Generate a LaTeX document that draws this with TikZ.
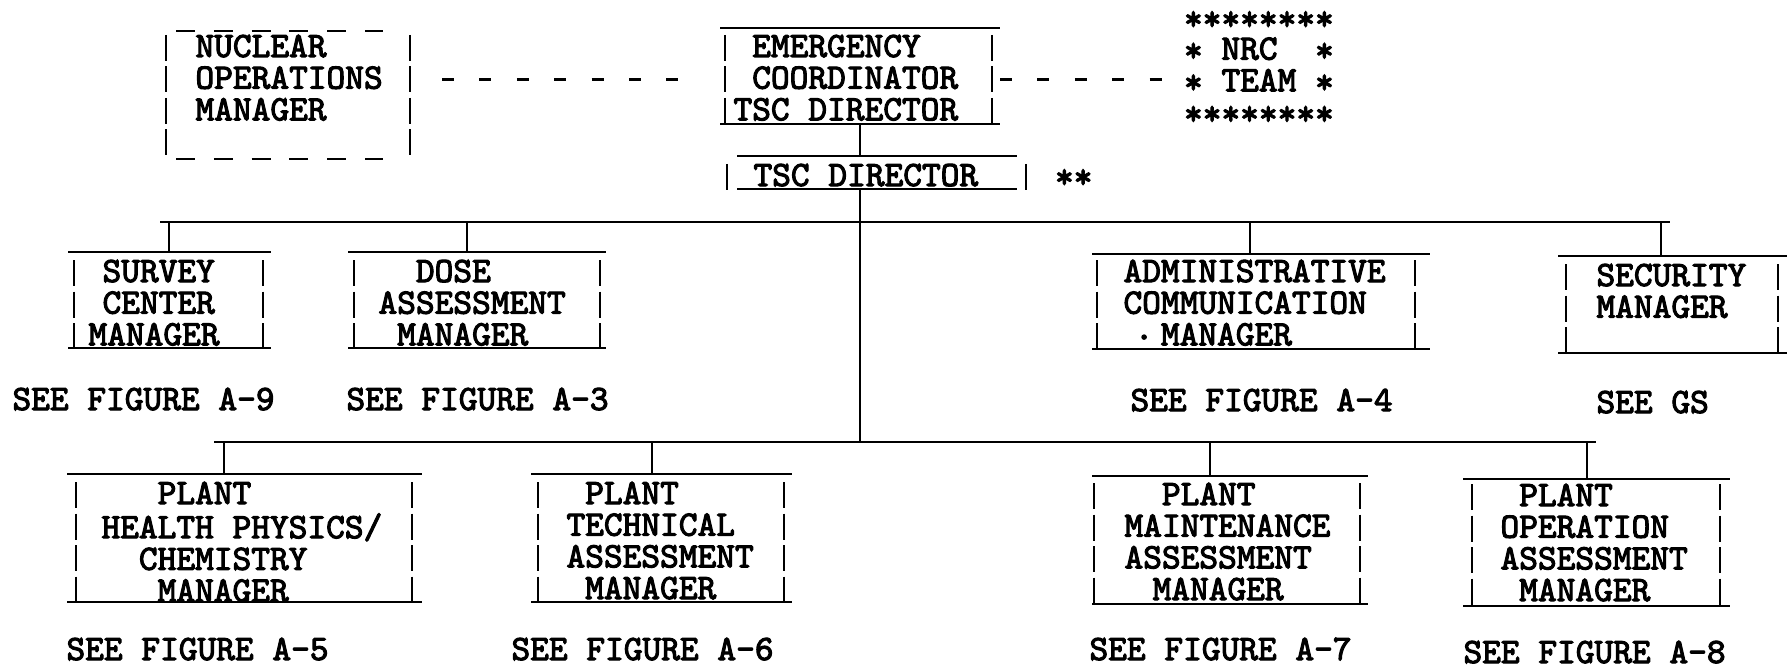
\documentclass[tikz,border=0pt]{standalone}
\usepackage{fontspec}
\newfontfamily\tyf{lmmono10-regular.otf}[FakeBold=3]
\newcommand\tw{\fontsize{35.66}{31.5}\selectfont\tyf}
\newlength\cw
\setlength\cw{18.72pt}
\newcommand\ind[1]{\hspace*{#1\cw}}
\newcommand\tl[1]{\begin{tabular}[t]{@{}l@{}}#1\end{tabular}}
\newcommand\st{\raisebox{-2pt}{*}}
\newcommand\bars[3]{\draw[barline] (#1,{#2-22}) -- (#1,{#2+31.5*(#3-1)+4});}
\newcommand\frm[6][hline]{%
  \node[boxarea, minimum width={#4-#3}, minimum height={#6-#5}] (#2) at ({(#3+#4)/2},{(#5+#6)/2}) {};
  \draw[#1] (#2.north west) -- (#2.north east);
  \draw[#1] (#2.south west) -- (#2.south east);}
\tikzset{
  hline/.style={line width=2.6pt},
  dline/.style={line width=2.6pt, dash pattern=on 19pt off 18.8pt},
  barline/.style={line width=2.6pt, dash pattern=on 26pt off 5.5pt},
  dlink/.style={line width=3pt, dash pattern=on 12pt off 25.4pt},
  boxarea/.style={draw=none, rectangle, inner sep=0pt, outer sep=0pt},
  txt/.style={anchor=base west, inner sep=0pt, outer sep=0pt, font=\tw}
}
\begin{document}
\begin{tikzpicture}[x=1pt,y=-1pt]
\path[fill=white] (0,0) rectangle (1787,671);
\useasboundingbox (0,0) rectangle (1787,671);

% ---------- top row ----------
\frm[dline]{nuclear}{176}{383}{31}{159}
\bars{166}{57}{4}
\bars{410}{57}{4}
\node[txt] (nuclear-t) at (195.5,57) {\tl{NUCLEAR\\OPERATIONS\\MANAGER}};

\frm{emerg}{720}{1000}{28}{124}
\bars{725}{57}{3}
\bars{992}{57}{3}
\node[txt] (emerg-t) at (733.5,57) {\tl{\ind{1}EMERGENCY\\\ind{1}COORDINATOR\\TSC DIRECTOR}};

\node[txt] (nrc) at (1184,28) {\tl{\st\st\st\st\st\st\st\st\\\st~NRC~~\st\\\st~TEAM~\st\\\st\st\st\st\st\st\st\st}};

\coordinate (l1a) at (442,80);
\coordinate (l1b) at (682,80);
\draw[dlink] (l1a) -- (l1b);
\coordinate (l2a) at (1000,80);
\coordinate (l2b) at (1170,80);
\draw[dlink] (l2a) -- (l2b);

\frm{tsc}{737}{1017}{156}{189}
\bars{727}{186}{1}
\bars{1026}{186}{1}
\node[txt] (tsc-t) at (753.5,186) {TSC DIRECTOR};
\node[txt] (tsc-note) at (1055,186) {\st\st};

% ---------- spine and buses ----------
\draw[hline] (emerg.south) -- (emerg.south |- tsc.north);
\coordinate (bus2c) at (860,442);
\draw[hline] (tsc.south -| emerg.south) -- (bus2c);
\coordinate (bus1L) at (160,222);
\coordinate (bus1R) at (1670,222);
\draw[hline] (bus1L) -- (bus1R);
\coordinate (bus2L) at (214,442);
\coordinate (bus2R) at (1596,442);
\draw[hline] (bus2L) -- (bus2R);

% ---------- middle row ----------
\frm{survey}{68}{271}{252}{348}
\bars{74}{282}{3}
\bars{263}{282}{3}
\node[txt] (survey-t) at (88.5,282) {\tl{\ind{0.75}SURVEY\\\ind{0.75}CENTER\\MANAGER}};
\node[txt] (survey-s) at (12.5,410) {SEE FIGURE A-9};

\frm{dose}{348}{606}{252}{348}
\bars{354}{282}{3}
\bars{600}{282}{3}
\node[txt] (dose-t) at (378.5,282) {\tl{\ind{2}DOSE\\ASSESSMENT\\\ind{1}MANAGER}};
\node[txt] (dose-s) at (346.5,410) {SEE FIGURE A-3};

\frm{admin}{1092}{1430}{254}{349}
\bars{1097}{282}{3}
\bars{1415}{282}{3}
\node[txt] (admin-t) at (1123.5,282) {\tl{ADMINISTRATIVE\\COMMUNICATION\\\ind{0.6}\raisebox{6pt}{.}\ind{0.4}MANAGER}};
\node[txt] (admin-s) at (1130.5,411) {SEE FIGURE A-4};

\frm{secur}{1558}{1787}{256}{353}
\bars{1566}{286}{3}
\bars{1778}{286}{3}
\node[txt] (secur-t) at (1596.5,286) {\tl{SECURITY\\MANAGER}};
\node[txt] (secur-s) at (1596.5,413) {SEE GS};

\coordinate (d-survey) at (169,222);
\draw[hline] (d-survey) -- (d-survey |- survey.north);
\coordinate (d-dose) at (467,222);
\draw[hline] (d-dose) -- (d-dose |- dose.north);
\coordinate (d-admin) at (1250,222);
\draw[hline] (d-admin) -- (d-admin |- admin.north);
\coordinate (d-secur) at (1661,222);
\draw[hline] (d-secur) -- (d-secur |- secur.north);

% ---------- bottom row ----------
\frm{health}{67}{422}{474}{602}
\bars{76}{504}{4}
\bars{412}{504}{4}
\node[txt] (health-t) at (101.5,504) {\tl{\ind{3}PLANT\\HEALTH PHYSICS/\\\ind{2}CHEMISTRY\\\ind{3}MANAGER}};
\node[txt] (health-s) at (66.5,660) {SEE FIGURE A-5};

\frm{tech}{531}{792}{474}{602}
\bars{538}{504}{4}
\bars{784}{504}{4}
\node[txt] (tech-t) at (566.5,504) {\tl{\ind{1}PLANT\\TECHNICAL\\ASSESSMENT\\\ind{1}MANAGER}};
\node[txt] (tech-s) at (511.5,660) {SEE FIGURE A-6};

\frm{maint}{1092}{1368}{476}{604}
\bars{1094}{505}{4}
\bars{1360}{505}{4}
\node[txt] (maint-t) at (1124.5,505) {\tl{\ind{2}PLANT\\MAINTENANCE\\ASSESSMENT\\\ind{1.5}MANAGER}};
\node[txt] (maint-s) at (1089.5,660) {SEE FIGURE A-7};

\frm{oper}{1463}{1730}{479}{606}
\bars{1472}{506}{4}
\bars{1720}{506}{4}
\node[txt] (oper-t) at (1500.5,506) {\tl{\ind{1}PLANT\\OPERATION\\ASSESSMENT\\\ind{1}MANAGER}};
\node[txt] (oper-s) at (1463.5,663) {SEE FIGURE A-8};

\coordinate (d-health) at (224,442);
\draw[hline] (d-health) -- (d-health |- health.north);
\coordinate (d-tech) at (652,442);
\draw[hline] (d-tech) -- (d-tech |- tech.north);
\coordinate (d-maint) at (1210,442);
\draw[hline] (d-maint) -- (d-maint |- maint.north);
\coordinate (d-oper) at (1587,442);
\draw[hline] (d-oper) -- (d-oper |- oper.north);
\end{tikzpicture}
\end{document}
